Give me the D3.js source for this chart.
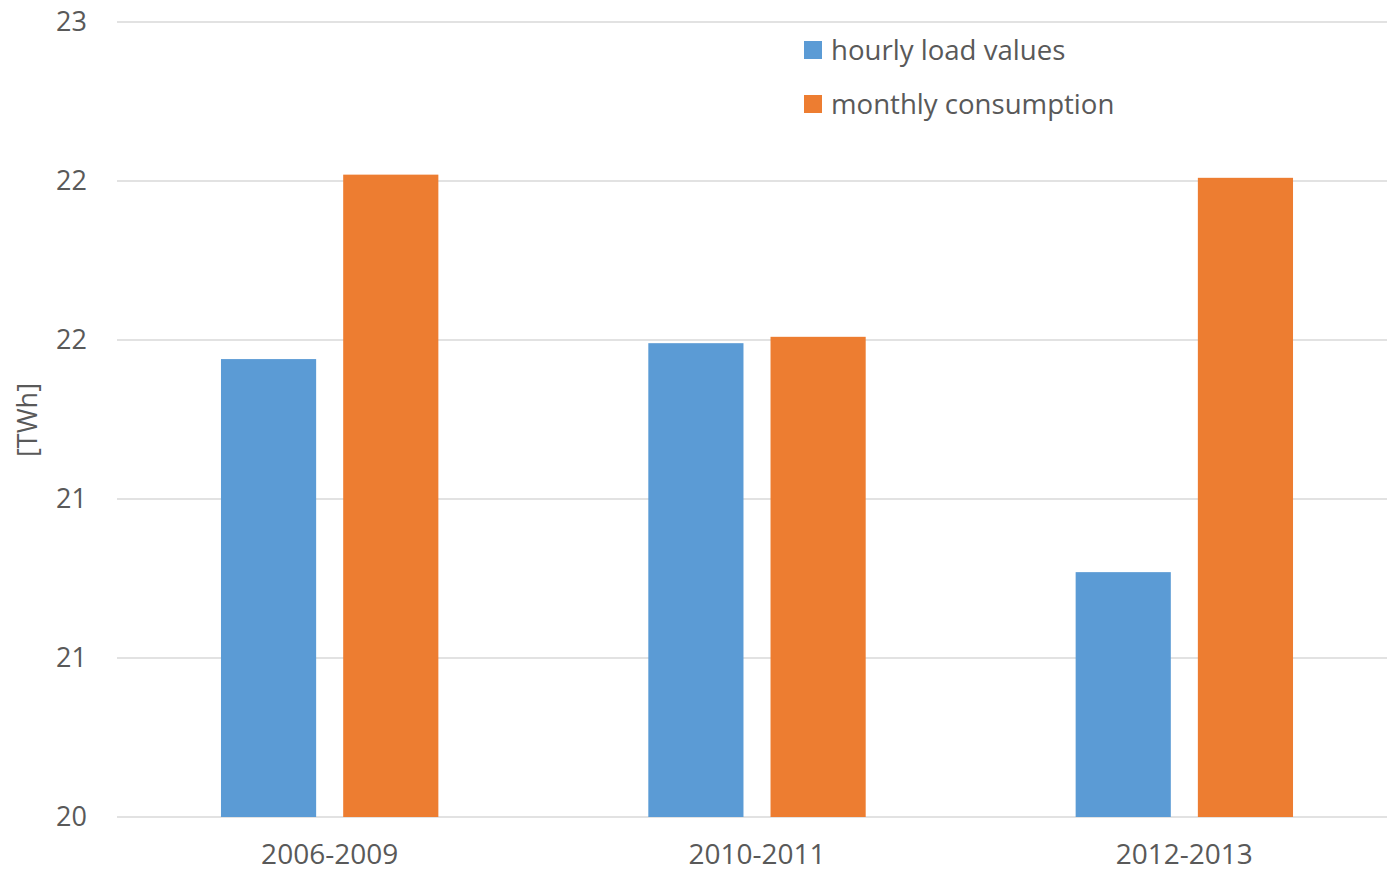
<!DOCTYPE html>
<html><head><meta charset="utf-8">
<script src="https://cdn.jsdelivr.net/npm/d3@7"></script>
<style>body{margin:0;background:#fff;} text{font-family:"Open Sans",sans-serif;fill:#595959;}</style>
</head><body>
<svg id="c" width="1387" height="873"></svg>
<script>
const categories = ["2006-2009","2010-2011","2012-2013"];
const seriesNames = ["hourly load values","monthly consumption"];
const hourly = [21.44, 21.49, 20.77];
const monthly = [22.02, 21.51, 22.01];
const tickValues = [20, 20.5, 21, 21.5, 22, 22.5];
const tickLabels = ["20","21","21","22","22","23"];
const colors = ["#5B9BD5","#ED7D31"];

const svg = d3.select("#c");
const W = 1387, H = 873;
const FONT = "'Open Sans',sans-serif";
const x = d3.scaleBand().domain(categories).range([116, 1398]).paddingInner(0).paddingOuter(0);
const y = d3.scaleLinear().domain([20,22.5]).range([817, 22]);
const xs = d3.scaleBand().domain(seriesNames).range([0, x.bandwidth()]).paddingInner(0.2213).paddingOuter(0.859);

// gridlines
svg.append("g").selectAll("line").data(tickValues).join("line")
  .attr("x1", 117).attr("x2", W).attr("y1", d=>y(d)).attr("y2", d=>y(d))
  .attr("stroke", "#D9D9D9").attr("stroke-width", 1.5);

// y tick labels
const ya = d3.axisLeft(y).tickValues(tickValues).tickFormat((d,i)=>tickLabels[i]).tickSize(0).tickPadding(30);
const gy = svg.append("g").attr("transform", `translate(117,0)`).call(ya);
gy.select(".domain").remove();
gy.selectAll("text").style("font-size","27px").attr("fill","#595959").style("font-family",FONT);

// bars
const data = categories.map((c,i)=>({c, vals:[hourly[i], monthly[i]]}));
const g = svg.append("g");
data.forEach(d=>{
  d.vals.forEach((v,j)=>{
    g.append("rect")
      .attr("x", x(d.c)+xs(seriesNames[j]))
      .attr("width", xs.bandwidth())
      .attr("y", y(v))
      .attr("height", y(20)-y(v))
      .attr("fill", colors[j]);
  });
});

// x axis labels
const xa = d3.axisBottom(x).tickSize(0).tickPadding(27);
const gx = svg.append("g").attr("transform", `translate(0,${y(20)})`).call(xa);
gx.select(".domain").remove();
gx.selectAll("text").style("font-size","28px").attr("fill","#595959").style("font-family",FONT);

// y axis title
svg.append("text").attr("transform","translate(37,420) rotate(-90)")
  .attr("text-anchor","middle").style("font-size","27px").text("[TWh]");

// legend
const lg = svg.append("g");
seriesNames.forEach((s,i)=>{
  const yy = 41 + i*54;
  lg.append("rect").attr("x",804).attr("y",yy).attr("width",18).attr("height",18).attr("fill",colors[i]);
  lg.append("text").attr("x",831).attr("y",yy+19).style("font-size","27.6px").text(s);
});
</script>
</body></html>
